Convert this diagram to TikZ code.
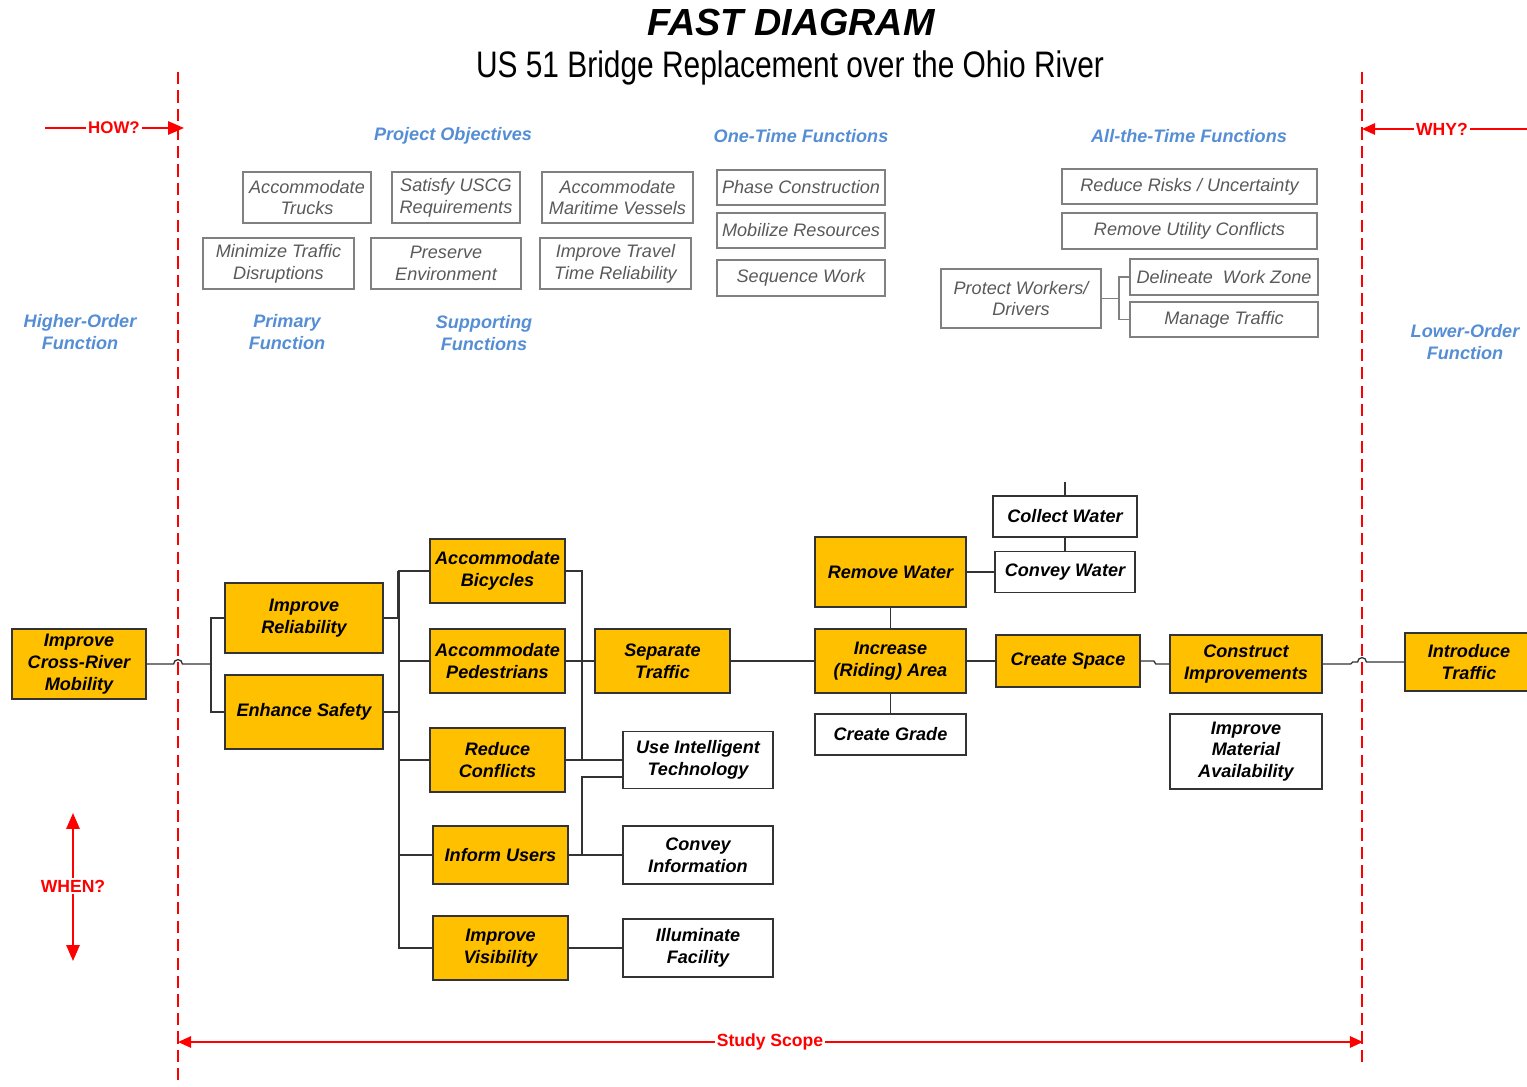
\documentclass[tikz,border=0pt]{standalone}
\usepackage{fontspec}
\setmainfont{Liberation Sans}
\newfontfamily\narrowfont[FakeStretch=0.81]{Liberation Sans}
\usetikzlibrary{arrows.meta}
\definecolor{fastorange}{RGB}{255,192,0}
\definecolor{fastblue}{RGB}{85,142,213}
\definecolor{objgray}{RGB}{89,89,89}
\definecolor{fastred}{RGB}{255,0,0}
\tikzset{
  wh/.style 2 args={minimum width=#1*0.02cm, minimum height=#2*0.02cm},
  fn/.style={draw=black!80, line width=0.9pt, fill=fastorange, align=center, inner sep=1pt,
    font=\fontsize{10.3}{12.4}\selectfont\bfseries\itshape},
  sub/.style={fn, fill=white},
  obj/.style={draw=black!50, line width=0.6pt, align=center, inner sep=1pt, text=objgray,
    font=\fontsize{10.3}{12.4}\selectfont\itshape},
  cat/.style={align=center, text=fastblue, font=\fontsize{10.3}{12.4}\selectfont\bfseries\itshape},
  ask/.style={text=fastred, inner sep=1pt, font=\fontsize{10}{12}\selectfont\bfseries},
  conn/.style={draw=black!80, line width=0.75pt},
  objconn/.style={draw=black!50, line width=0.6pt},
  redline/.style={fastred, line width=1.1pt},
  redtip/.style={-{Triangle[length=9pt,width=7.5pt]}},
  smalltip/.style={-{Triangle[length=7.5pt,width=6.5pt]}},
  limit/.style={fastred, line width=0.9pt, dash pattern=on 7pt off 3.5pt}
}
\begin{document}
\begin{tikzpicture}[x=0.02cm, y=-0.02cm]
        \useasboundingbox (0,0) rectangle (1527,1087);
        \node [font=\fontsize{21.5}{25}\selectfont\bfseries\itshape] (title) at (791,23) {FAST DIAGRAM};
        \node [font=\narrowfont\fontsize{21}{25}\selectfont] (subtitle) at (790,68) {US 51 Bridge Replacement over the Ohio River};
        \coordinate (limLtop) at (178,72);
        \coordinate (limLbot) at (178,1087);
        \coordinate (limRtop) at (1362,72);
        \coordinate (limRbot) at (1362,1062);
        \draw [limit] (limLtop) -- (limLbot);
        \draw [limit] (limRtop) -- (limRbot);
        \coordinate (howstart) at (45,128);
        \coordinate (howend) at (184,128);
        \node [ask, font=\fontsize{9.6}{12}\selectfont\bfseries] (how) at (114,128) {HOW?};
        \draw [redline] (howstart) -- (how);
        \draw [redline, redtip] (how) -- (howend);
        \coordinate (whystart) at (1527,129);
        \coordinate (whyend) at (1362,129);
        \node [ask] (why) at (1442,129) {WHY?};
        \draw [redline] (whystart) -- (why);
        \draw [redline, smalltip] (why) -- (whyend);
        \node [ask] (when) at (73,886) {WHEN?};
        \coordinate (whenup) at (73,813);
        \coordinate (whendown) at (73,961);
        \draw [redline, redtip] (when.north) -- (whenup);
        \draw [redline, redtip] (when.south) -- (whendown);
        \node [ask] (scope) at (770,1042) {Study Scope};
        \coordinate (scopeL) at (178,1042);
        \coordinate (scopeR) at (1363,1042);
        \draw [redline, smalltip] (scope) -- (scopeL);
        \draw [redline, smalltip] (scope) -- (scopeR);
        \node [cat] (objectives) at (453,136) {Project Objectives};
        \node [cat] (onetime) at (801,136) {One-Time Functions};
        \node [cat] (alltime) at (1189,136) {All-the-Time Functions};
        \node [cat] (higher) at (80,332) {Higher-Order\\Function};
        \node [cat] (primary) at (287,332) {Primary\\Function};
        \node [cat] (supporting) at (484,333) {Supporting\\Functions};
        \node [cat] (lower) at (1465,342) {Lower-Order\\Function};
        \node [obj, wh={128}{51}] (trucks) at (307,197.5) {Accommodate\\Trucks};
        \node [obj, wh={128}{51}] (uscg) at (456,197.5) {Satisfy USCG\\Requirements};
        \node [obj, wh={151}{51}] (vessels) at (617.5,197.5) {Accommodate\\Maritime Vessels};
        \node [obj, wh={151}{51}] (disrupt) at (278.5,263.5) {Minimize Traffic\\Disruptions};
        \node [obj, wh={150}{51}] (environ) at (446,263.5) {Preserve\\Environment};
        \node [obj, wh={151}{51}] (traveltime) at (615.5,263.5) {Improve Travel\\Time Reliability};
        \node [obj, wh={168}{35}] (phase) at (801,187.5) {Phase Construction};
        \node [obj, wh={168}{35}] (mobilize) at (801,230.5) {Mobilize Resources};
        \node [obj, wh={168}{36}] (sequence) at (801,278) {Sequence Work};
        \node [obj, wh={255}{35}] (risks) at (1189.5,186.5) {Reduce Risks / Uncertainty};
        \node [obj, wh={255}{36}] (utility) at (1189.5,231) {Remove Utility Conflicts};
        \node [obj, wh={160}{59}] (protect) at (1021,298.5) {Protect Workers/\\Drivers};
        \node [obj, wh={188}{36}] (delineate) at (1224,277) {Delineate~ Work Zone};
        \node [obj, wh={188}{35}] (managetr) at (1224,319.5) {Manage Traffic};
        \coordinate (protectj) at (1119,298.5);
        \draw [objconn] (protect.east) -- (protectj) |- (delineate.west);
        \draw [objconn] (protectj) |- (managetr.west);
        \node [fn, wh={134}{70}] (mobility) at (79,664) {Improve\\Cross-River\\Mobility};
        \node [fn, wh={158}{70}] (relia) at (304,618) {Improve\\Reliability};
        \node [fn, wh={158}{74}] (safety) at (304,712) {Enhance Safety};
        \node [fn, wh={135}{64}] (bikes) at (497.5,571) {Accommodate\\Bicycles};
        \node [fn, wh={135}{64}] (peds) at (497.5,661) {Accommodate\\Pedestrians};
        \node [fn, wh={135}{64}] (conflicts) at (497.5,760) {Reduce\\Conflicts};
        \node [fn, wh={135}{58}] (inform) at (500.5,855) {Inform Users};
        \node [fn, wh={135}{64}] (visib) at (500.5,948) {Improve\\Visibility};
        \node [fn, wh={135}{64}] (separate) at (662.5,661) {Separate\\Traffic};
        \node [fn, wh={151}{70}] (removew) at (890.5,572) {Remove Water};
        \node [fn, wh={151}{64}] (area) at (890.5,661) {Increase\\(Riding) Area};
        \node [fn, wh={144}{52}] (space) at (1068,661) {Create Space};
        \node [fn, wh={152}{58}] (construct) at (1246,664) {Construct\\Improvements};
        \node [fn, wh={128}{58}] (introduce) at (1469,662) {Introduce\\Traffic};
        \node [sub, wh={150}{57}] (intell) at (698,760) {Use Intelligent\\Technology};
        \node [sub, wh={150}{58}] (conveyinfo) at (698,855) {Convey\\Information};
        \node [sub, wh={150}{58}] (illum) at (698,948) {Illuminate\\Facility};
        \node [sub, wh={144}{41}] (collect) at (1065,516.5) {Collect Water};
        \node [sub, wh={140}{41}] (conveyw) at (1065,572) {Convey Water};
        \node [sub, wh={151}{41}] (grade) at (890.5,734.5) {Create Grade};
        \node [sub, wh={152}{75}] (material) at (1246,751.5) {Improve\\Material\\Availability};
        \coordinate (hopL) at (178,664);
        \coordinate (hopR) at (1362,662);
        \coordinate (busA) at (211,664);
        \coordinate (busB) at (399,571);
        \coordinate (busC) at (582,571);
        \coordinate (intellin) at (623,777);
        \coordinate (collecttop) at (1065,482);
        \draw [conn] (mobility.east) -- ([xshift=-2.5pt]hopL) arc [start angle=180, end angle=0, radius=2.5pt] -- (busA);
        \draw [conn] (relia.west) -| (busA) |- (safety.west);
        \draw [conn] (bikes.west) -- (busB) |- (visib.west);
        \draw [conn] (relia.east) -| ([xshift=-1pt]busB);
        \draw [conn] (safety.east) -- (safety.east -| busB);
        \draw [conn] (peds.west) -- (peds.west -| busB);
        \draw [conn] (conflicts.west) -- (conflicts.west -| busB);
        \draw [conn] (inform.west) -- (inform.west -| busB);
        \draw [conn] (bikes.east) -| (conflicts.east -| busC);
        \draw [conn] (peds.east) -- (separate.west);
        \draw [conn] (conflicts.east) -- (intell.west);
        \draw [conn] (intellin) -| (inform.east -| busC);
        \draw [conn] (inform.east) -- (conveyinfo.west);
        \draw [conn] (visib.east) -- (illum.west);
        \draw [conn] (separate.east) -- (area.west);
        \draw [conn] (removew.south) -- (area.north);
        \draw [conn] (area.south) -- (grade.north);
        \draw [conn] (removew.east) -- (conveyw.west);
        \draw [conn] (conveyw.north) -- (collect.south);
        \draw [conn] (collect.north) -- (collecttop);
        \draw [conn] (area.east) -- (space.west);
        \draw [conn] (space.east) -- ++(13,0) -- ++(2,3) -- (construct.west);
        \draw [conn] (construct.east) -- ++(28,0) -- ++(2,-2) -- ([xshift=-2.5pt]hopR) arc [start angle=180, end angle=0, radius=2.5pt] -- (introduce.west);
\end{tikzpicture}
\end{document}
